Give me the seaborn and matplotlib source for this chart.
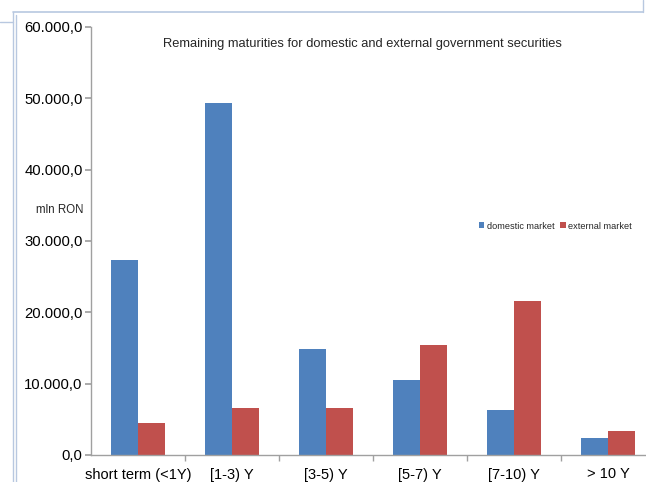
import matplotlib
matplotlib.use("Agg")
import matplotlib.pyplot as plt
import matplotlib.ticker as mticker
from matplotlib.lines import Line2D
import seaborn as sns
import pandas as pd

categories = ["short term (<1Y)", "[1-3) Y", "[3-5) Y", "[5-7) Y", "[7-10) Y", "> 10 Y"]
domestic = [27340, 49350, 14860, 10510, 6310, 2380]
external = [4490, 6590, 6590, 15420, 21590, 3360]
series_names = ["domestic market", "external market"]
yticks = [0, 10000, 20000, 30000, 40000, 50000, 60000]

df = pd.DataFrame({
    "cat": categories * 2,
    "value": domestic + external,
    "series": [series_names[0]] * len(categories) + [series_names[1]] * len(categories),
})

sns.set_theme(style="white")
plt.rcParams["font.family"] = ["Liberation Sans", "DejaVu Sans"]

fig = plt.figure(figsize=(6.46, 4.82), dpi=100)
ax = fig.add_axes([91 / 646, 1 - 455 / 482, 564 / 646, (455 - 27) / 482])

sns.barplot(data=df, x="cat", y="value", hue="series", order=categories,
            palette=["#4F81BD", "#C0504D"], width=0.575, saturation=1,
            ax=ax, legend=True, errorbar=None, linewidth=0, edgecolor="none")

ax.set_ylim(0, 60000)
ax.set_xlim(-0.5, len(categories) - 0.5)
ax.set_yticks(yticks)
ax.yaxis.set_major_formatter(mticker.FuncFormatter(
    lambda v, p: f"{v:,.1f}".replace(",", "X").replace(".", ",").replace("X", ".")))
ax.set_xlabel("")
ax.set_ylabel("")

for s in ["top", "right"]:
    ax.spines[s].set_visible(False)
for s in ["left", "bottom"]:
    ax.spines[s].set_color("#a0a0a0")
    ax.spines[s].set_linewidth(1.0)

ax.tick_params(axis="y", which="major", left=True, length=4, color="#a0a0a0",
               labelsize=10.7, labelcolor="black", pad=2)
ax.tick_params(axis="x", which="major", bottom=False, labelsize=10.5,
               labelcolor="black", pad=3)
ax.set_xticks([i + 0.5 for i in range(len(categories))], minor=True)
ax.tick_params(axis="x", which="minor", bottom=True, length=4, color="#a0a0a0")

ax.text(0.481, 0.975, "Remaining maturities for domestic and external government securities",
        transform=ax.transAxes, ha="center", va="top", fontsize=9.3)
fig.text(83 / 646, 1 - 210 / 482, "mln RON", ha="right", va="center", fontsize=8.3)

ax.legend(loc="center left", bbox_to_anchor=(0.673, 0.535), frameon=False,
          ncol=2, fontsize=6.6, handlelength=0.6, handleheight=0.6,
          handletextpad=0.3, columnspacing=0.6)

# window frame decorations
fc = "#b8c8e0"
fig.add_artist(Line2D([13 / 646, 13 / 646], [0, 1 - 12 / 482], color=fc, lw=1))
fig.add_artist(Line2D([16 / 646, 16 / 646], [0, 1 - 15 / 482], color=fc, lw=1))
fig.add_artist(Line2D([13 / 646, 643 / 646], [1 - 12 / 482, 1 - 12 / 482], color=fc, lw=1.2))
fig.add_artist(Line2D([643 / 646, 643 / 646], [1 - 12 / 482, 1], color=fc, lw=1))
fig.add_artist(Line2D([0, 13 / 646], [1 - 22 / 482, 1 - 22 / 482], color=fc, lw=1))

fig.savefig("out.png", dpi=100)
